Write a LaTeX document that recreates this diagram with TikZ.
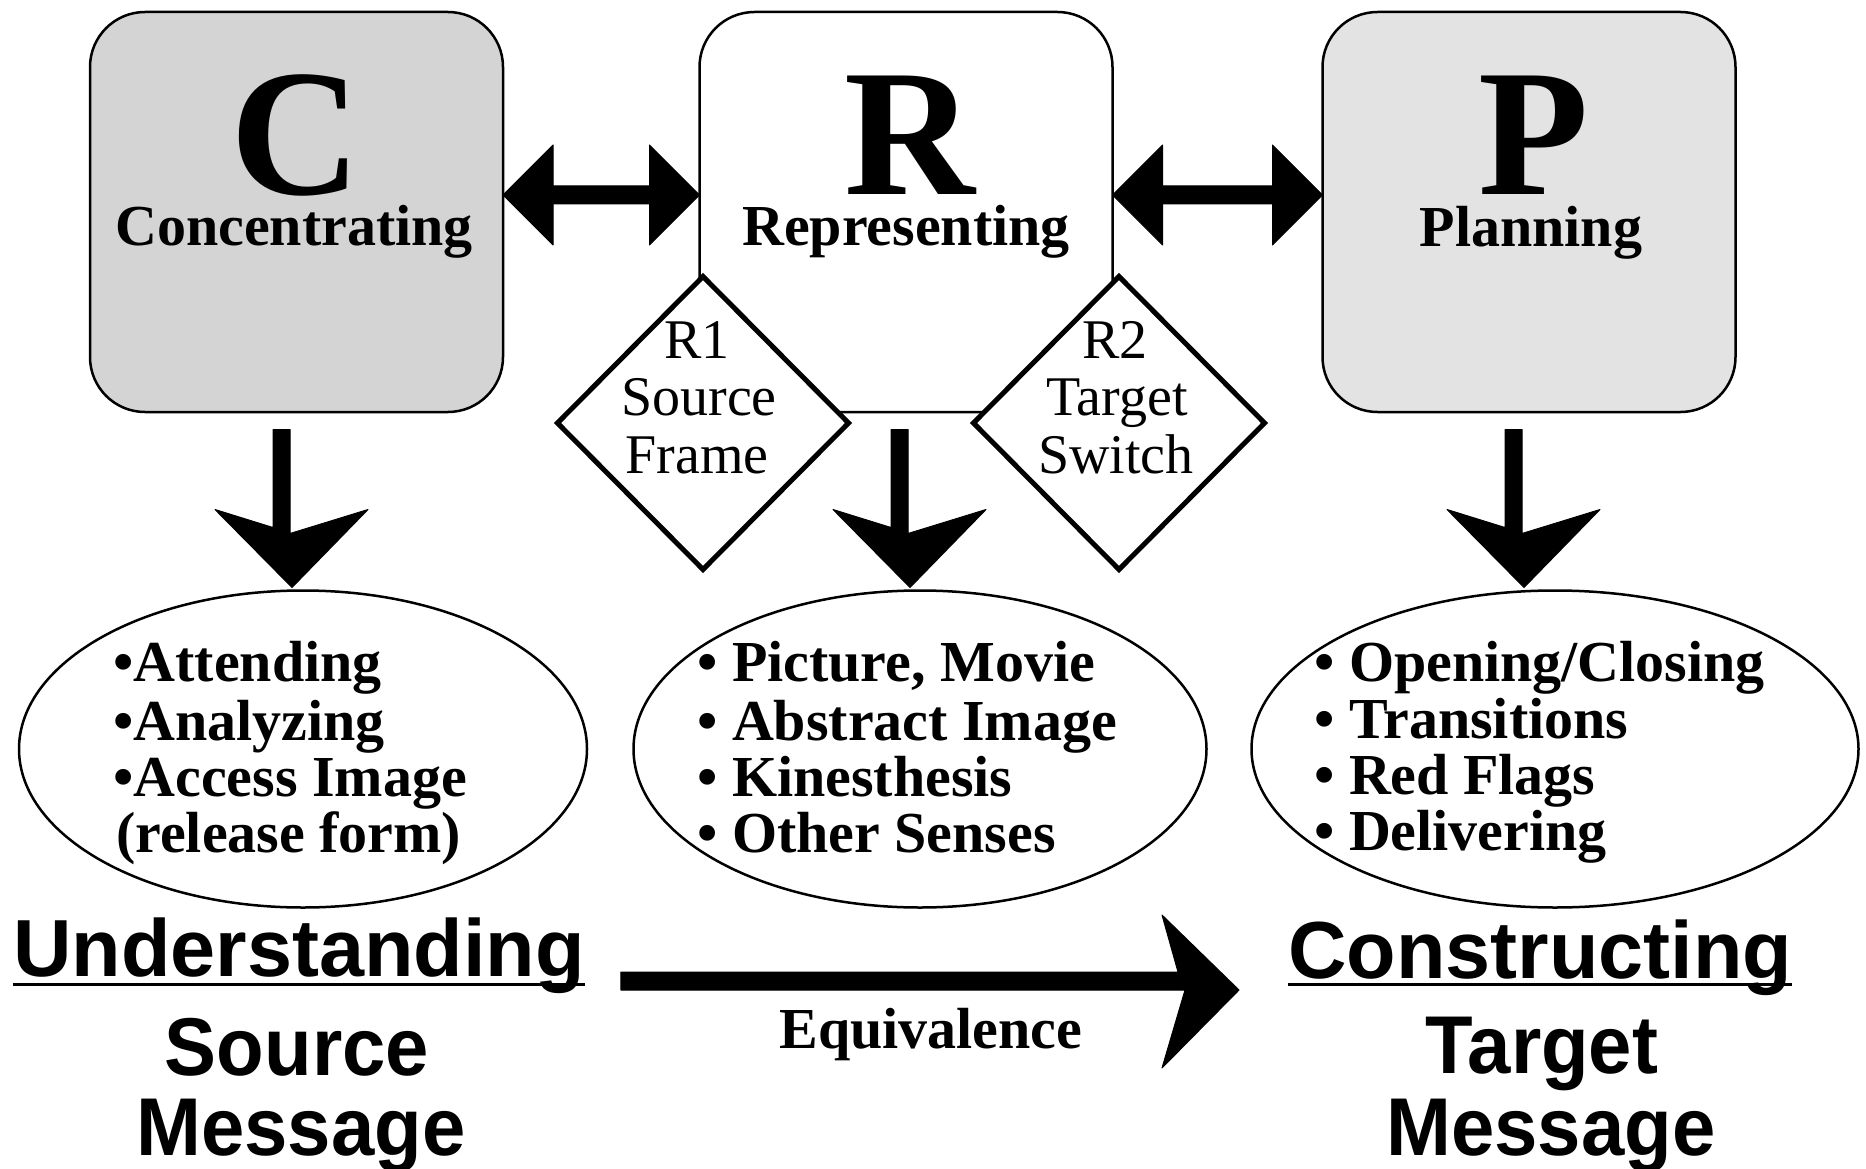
\documentclass[tikz,border=0pt]{standalone}
\usepackage{fontspec}
\setmainfont{Liberation Serif}
\newfontfamily\hvfont{Liberation Sans}
\newfontfamily\hvcond{Liberation Sans}[FakeStretch=0.95]
\usetikzlibrary{shapes.geometric,calc}
\definecolor{cgray}{HTML}{D4D4D4}
\definecolor{pgray}{HTML}{E3E3E3}
\newcommand{\fsz}[1]{\fontsize{#1}{#1}\selectfont}
\begin{document}
\begin{tikzpicture}[x=1pt,y=-1pt,
  box/.style={draw, line width=2.5pt, rounded corners=55pt, minimum width=413pt, minimum height=400pt, inner sep=0pt, outer sep=0pt},
  dia/.style={draw, diamond, fill=white, line width=5pt, minimum width=291pt, minimum height=293pt, inner sep=0pt, outer sep=0pt},
  oval/.style={draw, ellipse, line width=2.5pt, inner sep=0pt, outer sep=0pt, minimum height=317pt},
  big/.style={font=\fsz{181}\bfseries, inner sep=0pt, anchor=base, text depth=0pt},
  sub/.style={font=\fsz{58}\bfseries, inner sep=0pt, anchor=base},
  boxlab/.style={sub, text height=40pt},
  dtxt/.style={font=\fsz{56}, inner sep=0pt, anchor=base},
  item/.style={font=\fsz{58}\bfseries, inner sep=0pt, anchor=base west},
  head/.style={font=\hvfont\fsz{81}\bfseries, inner sep=0pt, anchor=base},
  msg/.style={font=\hvcond\fsz{82}\bfseries, inner sep=0pt, anchor=base},
  fat/.style={fill=black, draw=black, line width=1pt, line join=round}
]
\fill[white] (0,0) rectangle (1866,1169);
\useasboundingbox (0,0) rectangle (1866,1169);

% boxes
\node[box, fill=cgray] (C) at (296.5,212) {};
\node[box, fill=white] (R) at (906,212) {};
\node[box, fill=pgray] (P) at (1529,212) {};
\node[dia] (D1) at (703,423) {};
\node[dia] (D2) at (1119,423) {};

% box texts
\node[big] (Cl) at (296,195) {C};
\node[big] (Rl) at (910,195) {R};
\node[big] (Pl) at (1534,195) {P};
\node[boxlab] (Ct) at (294,245) {Concentrating};
\node[boxlab] (Rt) at (906,245) {Representing};
\node[boxlab] (Pt) at (1531,247) {Planning};

% diamond texts
\node[dtxt] (D1a) at (697,358) {R1};
\node[dtxt] (D1b) at (699,415) {Source};
\node[dtxt] (D1c) at (697,473) {Frame};
\node[dtxt] (D2a) at (1115,358) {R2};
\node[dtxt] (D2b) at (1117,415) {Target};
\node[dtxt] (D2c) at (1116,473) {Switch};

% ellipses
\node[oval, minimum width=568pt] (E1) at (303,749) {};
\node[oval, minimum width=573pt] (E2) at (920,749) {};
\node[oval, minimum width=607pt] (E3) at (1555,749) {};

\node[item] (E1a) at (113,681) {•Attending};
\node[item] (E1b) at (113,740) {•Analyzing};
\node[item] (E1c) at (113,796) {•Access Image};
\node[item] (E1d) at (116,852) {(release form)};

\node[item] (E2a) at (697,681) {• Picture, Movie};
\node[item] (E2b) at (697,740) {• Abstract Image};
\node[item] (E2c) at (697,796) {• Kinesthesis};
\node[item] (E2d) at (697,852) {• Other Senses};

\node[item] (E3a) at (1314,681) {• Opening/Closing};
\node[item] (E3b) at (1314,738) {• Transitions};
\node[item] (E3c) at (1314,794) {• Red Flags};
\node[item] (E3d) at (1314,850) {• Delivering};

% double arrows
\coordinate (a1) at ($(C.east)+(0,-17)$);
\coordinate (b1) at ($(R.west)+(0,-17)$);
\path[fat] (a1) -- ++(50,-50) -- ++(0,41) -- ($(b1)+(-50,-9)$) -- ++(0,-41) -- (b1) -- ++(-50,50) -- ++(0,-41) -- ($(a1)+(50,9)$) -- ++(0,41) -- cycle;
\coordinate (a2) at ($(R.east)+(0,-17)$);
\coordinate (b2) at ($(P.west)+(0,-17)$);
\path[fat] (a2) -- ++(50,-50) -- ++(0,41) -- ($(b2)+(-50,-9)$) -- ++(0,-41) -- (b2) -- ++(-50,50) -- ++(0,-41) -- ($(a2)+(50,9)$) -- ++(0,41) -- cycle;

% down arrows
\coordinate (t1) at (E1.north -| 292,0);
\coordinate (t2) at (E2.north -| 910,0);
\coordinate (t3) at (E3.north -| 1524,0);
\foreach \t in {t1,t2,t3}{
  \path[fat] ($(\t)+(0,-3)$) -- ++(-77,-78) -- ++(58,18) -- ++(0,-98) -- ++(17,0) -- ++(0,104) -- ++(78,-24) -- cycle;
}

% bottom labels
\node[head] (U) at (299,976) {Understanding};
\draw[line width=3pt] ($(U.base west)+(0,8)$) -- ($(U.base east)+(0,8)$);
\node[head] (K) at (1540,978) {Constructing};
\draw[line width=3pt] ($(K.base west)+(0,6)$) -- ($(K.base east)+(0,6)$);
\node[msg] (S1) at (297,1075) {Source};
\node[msg] (S2) at (301,1155) {Message};
\node[msg] (T1) at (1542,1073) {Target};
\node[msg] (T2) at (1551,1155) {Message};
\node[sub] (Eq) at (931,1048) {Equivalence};

% big arrow
\coordinate (s4) at ($(U.east)+(36,0)$);
\coordinate (t4) at (1239,990);
\path[fat] (t4) -- ++(-77,-75) -- ++(16,57) -- (s4 |- 0,972) -- (s4 |- 0,990) -- ($(t4)+(-54,0)$) -- ++(-23,78) -- cycle;
\end{tikzpicture}
\end{document}
